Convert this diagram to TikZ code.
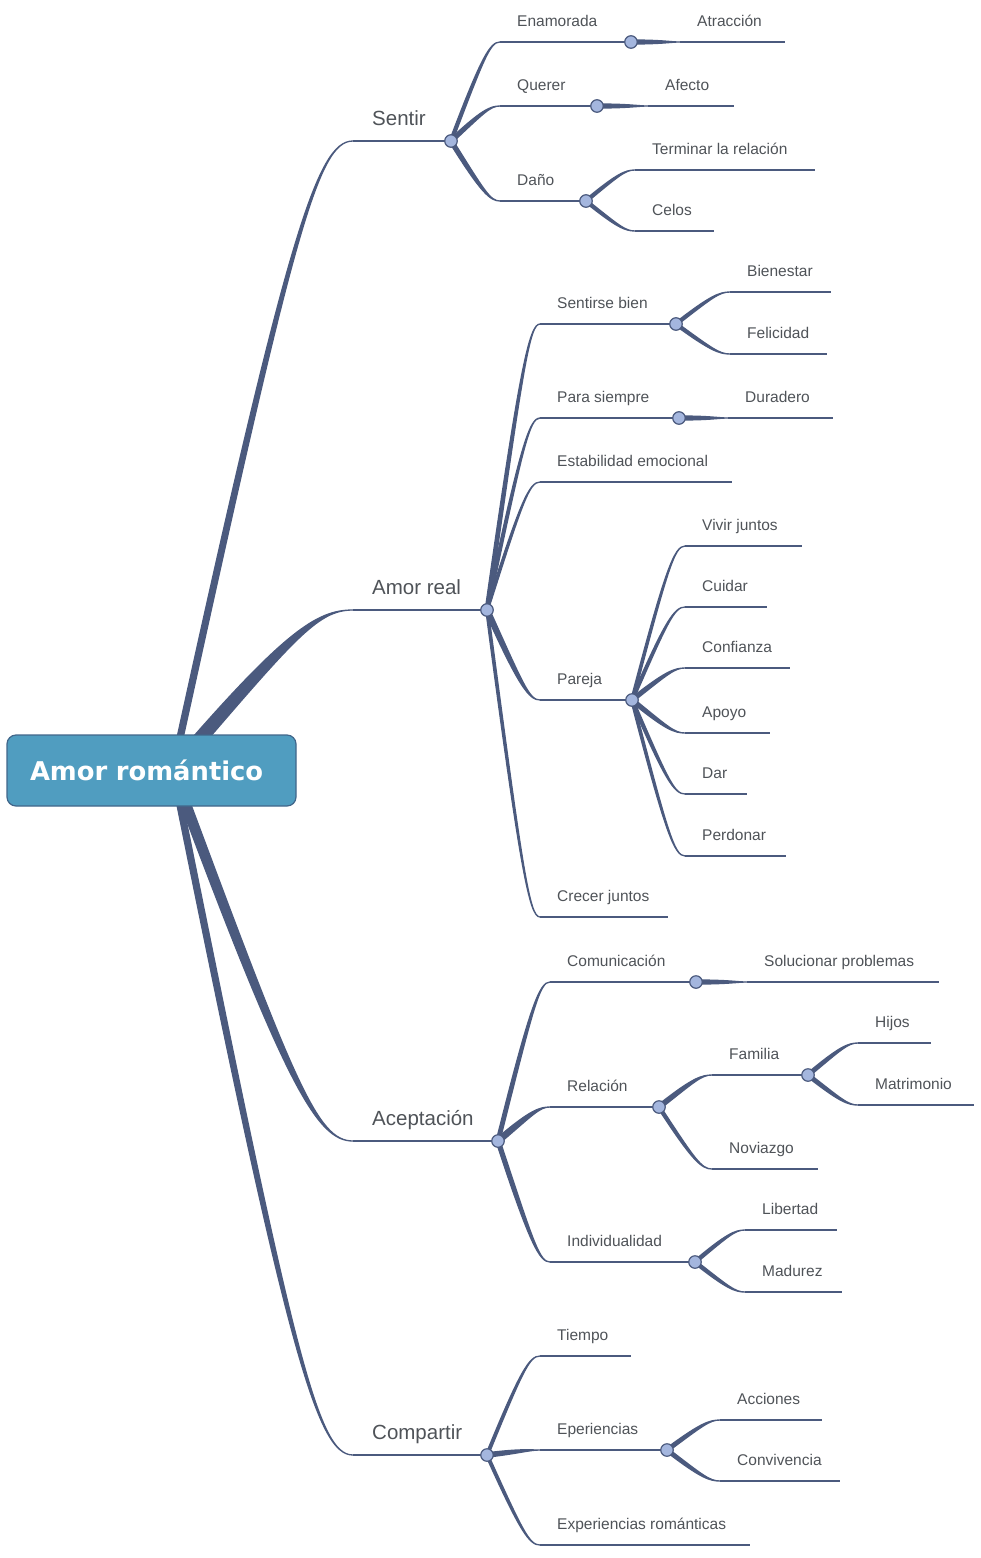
\documentclass[tikz,border=0pt]{standalone}
\usepackage{fontspec}
\setmainfont{Liberation Sans}
\newfontfamily\rootfont{DejaVu Sans}
\usetikzlibrary{calc}

\definecolor{mapline}{HTML}{4B5A7E}
\definecolor{mapdot}{HTML}{A4B6DE}
\definecolor{rootfill}{HTML}{509DC0}
\definecolor{rootedge}{HTML}{41668A}
\definecolor{mapgray}{HTML}{4F5358}

\tikzset{
  stem/.style={draw=mapline, line width=1.5pt},
  branch/.style={fill=mapline, draw=mapline, line width=1.3pt, line join=round},
  dot/.style={circle, fill=mapdot, draw=mapline, line width=1.2pt, inner sep=0pt, minimum size=12.5pt},
  lab/.style={font=\fontsize{15.5}{18}\selectfont, text=mapgray, inner sep=0pt,
    anchor=base west, xshift=17pt, yshift=15.5pt},
  bigl/.style={font=\fontsize{20.5}{24}\selectfont, text=mapgray, inner sep=0pt,
    anchor=base west, xshift=19pt, yshift=16pt},
  rootbox/.style={rounded corners=9pt, fill=rootfill, draw=rootedge, line width=1.2pt,
    inner xsep=23pt, text width=243pt, align=left, minimum height=71pt, text=white,
    font=\rootfont\bfseries\fontsize{25.8}{30}\selectfont}
}

% tapered connector: parent point, start of child line, half width at parent
\newcommand{\twig}[3]{%
  \filldraw[branch] let \p1=(#1), \p2=(#2),
      \p3=({0.65*(\x2-\x1)},{0.85*(\y2-\y1)}),
      \n1={max(veclen(\x3,\y3),0.01)},
      \p4=({-\y3/\n1*#3},{\x3/\n1*#3})
    in ({\x1+\x4},{\y1+\y4}) .. controls ({\x1+\x3+\x4},{\y1+\y3+\y4}) and ({\x1+0.8*(\x2-\x1)},\y2) .. (\x2,\y2)
    .. controls ({\x1+0.8*(\x2-\x1)},\y2) and ({\x1+\x3-\x4},{\y1+\y3-\y4}) .. ({\x1-\x4},{\y1-\y4}) -- cycle;}

% topic line with its label: name, x start, x end, y, text
\newcommand{\topic}[6][lab]{%
  \coordinate (#2) at (#3,#5);
  \coordinate (#2e) at (#4,#5);
  \draw[stem] (#2) -- (#2e);
  \node[#1] (#2l) at (#2) {#6};}

\begin{document}
\begin{tikzpicture}[x=1pt, y=-1pt]
  \useasboundingbox (0,0) rectangle (980,1558);
  \coordinate (rt) at (173,770);

  % main topics
  \topic[bigl]{sen}{353}{451}{141}{Sentir}
  \topic[bigl]{amo}{353}{487}{610}{Amor real}
  \topic[bigl]{ace}{353}{498}{1141}{Aceptación}
  \topic[bigl]{com}{353}{487}{1455}{Compartir}
  \twig{rt}{sen}{3}
  \twig{rt}{amo}{6.5}
  \twig{rt}{ace}{4.8}
  \twig{rt}{com}{3}

  % Sentir
  \topic{ena}{500}{631}{42}{Enamorada}
  \topic{atr}{680}{785}{42}{Atracción}
  \topic{que}{500}{597}{106}{Querer}
  \topic{afe}{648}{734}{106}{Afecto}
  \topic{dan}{500}{586}{201}{Daño}
  \topic{ter}{635}{815}{170}{Terminar la relación}
  \topic{cel}{635}{714}{231}{Celos}
  \twig{sene}{ena}{1.5}
  \twig{sene}{que}{2}
  \twig{sene}{dan}{2}
  \twig{enae}{atr}{2}
  \twig{quee}{afe}{2}
  \twig{dane}{ter}{1.5}
  \twig{dane}{cel}{1.5}

  % Amor real
  \topic{seb}{540}{676}{324}{Sentirse bien}
  \topic{bie}{730}{831}{292}{Bienestar}
  \topic{fel}{730}{827}{354}{Felicidad}
  \topic{par}{540}{679}{418}{Para siempre}
  \topic{dur}{728}{833}{418}{Duradero}
  \topic{est}{540}{732}{482}{Estabilidad emocional}
  \topic{pja}{540}{632}{700}{Pareja}
  \topic{viv}{685}{802}{546}{Vivir juntos}
  \topic{cui}{685}{767}{607}{Cuidar}
  \topic{con}{685}{790}{668}{Confianza}
  \topic{apo}{685}{770}{733}{Apoyo}
  \topic{dar}{685}{747}{794}{Dar}
  \topic{per}{685}{786}{856}{Perdonar}
  \topic{cre}{540}{668}{917}{Crecer juntos}
  \twig{amoe}{seb}{1.8}
  \twig{amoe}{par}{1.5}
  \twig{amoe}{est}{1.2}
  \twig{amoe}{pja}{2.5}
  \twig{amoe}{cre}{1.2}
  \twig{sebe}{bie}{1.5}
  \twig{sebe}{fel}{1.5}
  \twig{pare}{dur}{2}
  \twig{pjae}{viv}{1.2}
  \twig{pjae}{cui}{1.4}
  \twig{pjae}{con}{2}
  \twig{pjae}{apo}{2}
  \twig{pjae}{dar}{1.5}
  \twig{pjae}{per}{1.2}

  % Aceptación
  \topic{cmu}{550}{696}{982}{Comunicación}
  \topic{sol}{747}{939}{982}{Solucionar problemas}
  \topic{rel}{550}{659}{1107}{Relación}
  \topic{fam}{712}{808}{1075}{Familia}
  \topic{hij}{858}{931}{1043}{Hijos}
  \topic{mat}{858}{974}{1105}{Matrimonio}
  \topic{nov}{712}{818}{1169}{Noviazgo}
  \topic{ind}{550}{695}{1262}{Individualidad}
  \topic{lib}{745}{837}{1230}{Libertad}
  \topic{mad}{745}{842}{1292}{Madurez}
  \twig{acee}{cmu}{1.8}
  \twig{acee}{rel}{2.8}
  \twig{acee}{ind}{2}
  \twig{cmue}{sol}{2}
  \twig{rele}{fam}{2.2}
  \twig{rele}{nov}{1.5}
  \twig{fame}{hij}{1.8}
  \twig{fame}{mat}{1.8}
  \twig{inde}{lib}{1.6}
  \twig{inde}{mad}{1.6}

  % Compartir
  \topic{tie}{540}{631}{1356}{Tiempo}
  \topic{epe}{540}{667}{1450}{Eperiencias}
  \topic{acc}{720}{822}{1420}{Acciones}
  \topic{cnv}{720}{840}{1481}{Convivencia}
  \topic{exr}{540}{750}{1545}{Experiencias románticas}
  \twig{come}{tie}{1.3}
  \twig{come}{epe}{2.2}
  \twig{come}{exr}{1.3}
  \twig{epee}{acc}{1.8}
  \twig{epee}{cnv}{1.8}

  % junction dots
  \foreach \d in {sen,amo,ace,com,ena,que,dan,seb,par,pja,cmu,rel,fam,ind,epe}
    \node[dot] (\d-dot) at (\d e) {};

  \node[rootbox] (root) at (151.5,770.5) {Amor romántico};
\end{tikzpicture}
\end{document}
